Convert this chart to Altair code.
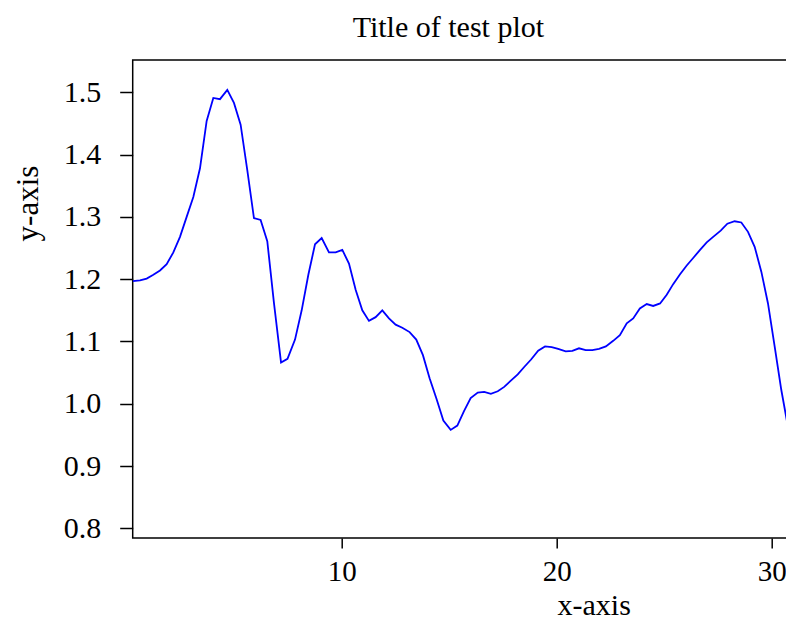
import altair as alt
import pandas as pd

x_vals = [0.28, 0.62, 0.93, 1.24, 1.55, 1.86, 2.17, 2.48, 2.79, 3.10,
          3.41, 3.72, 4.03, 4.34, 4.68, 4.99, 5.30, 5.61, 5.92, 6.23,
          6.54, 6.85, 7.18, 7.48, 7.83, 8.14, 8.45, 8.76, 9.07, 9.41,
          9.72, 10.03, 10.34, 10.65, 10.96, 11.27, 11.58, 11.89, 12.20, 12.51,
          12.82, 13.16, 13.47, 13.78, 14.09, 14.41, 14.73, 15.07, 15.38, 15.69,
          16.00, 16.33, 16.63, 16.94, 17.26, 17.56, 17.87, 18.19, 18.49, 18.81,
          19.14, 19.46, 19.77, 20.07, 20.42, 20.73, 21.04, 21.35, 21.66, 21.97,
          22.29, 22.63, 22.94, 23.26, 23.56, 23.87, 24.19, 24.49, 24.81, 25.12,
          25.42, 25.74, 26.05, 26.35, 26.67, 26.98, 27.28, 27.63, 27.94, 28.28,
          28.59, 28.90, 29.21, 29.52, 29.83, 30.14, 30.45, 30.76, 31.04]

y_vals = [1.197, 1.198, 1.201, 1.207, 1.214, 1.224, 1.243, 1.268, 1.300, 1.332,
          1.378, 1.454, 1.491, 1.489, 1.504, 1.483, 1.448, 1.375, 1.298, 1.295,
          1.261, 1.162, 1.066, 1.072, 1.103, 1.150, 1.207, 1.256, 1.266, 1.243,
          1.243, 1.247, 1.225, 1.183, 1.150, 1.133, 1.139, 1.150, 1.137, 1.127,
          1.122, 1.115, 1.103, 1.078, 1.041, 1.008, 0.973, 0.958, 0.965, 0.988,
          1.009, 1.018, 1.019, 1.016, 1.020, 1.027, 1.037, 1.047, 1.059, 1.071,
          1.085, 1.092, 1.091, 1.088, 1.084, 1.085, 1.089, 1.086, 1.086, 1.088,
          1.092, 1.101, 1.110, 1.129, 1.137, 1.153, 1.160, 1.157, 1.161, 1.175,
          1.192, 1.208, 1.222, 1.234, 1.247, 1.259, 1.268, 1.278, 1.289, 1.293,
          1.291, 1.276, 1.252, 1.212, 1.161, 1.092, 1.022, 0.963, 0.904]

x_ticks = [10, 20, 30]
y_ticks = [0.8, 0.9, 1.0, 1.1, 1.2, 1.3, 1.4, 1.5]

df = pd.DataFrame({"x": x_vals, "y": y_vals})

FONT = "Liberation Serif"
FS = 29

chart = alt.Chart(df).mark_line(color="#0000FF", strokeWidth=1.8, clip=True).encode(
    x=alt.X("x:Q",
            scale=alt.Scale(domain=[0.28, 31.04], nice=False, zero=False),
            axis=alt.Axis(title="x-axis", values=x_ticks, format="d", grid=False,
                          domain=False, tickSize=10, tickWidth=1.5, tickColor="black",
                          labelFont=FONT, labelFontSize=FS, labelColor="black",
                          labelBaseline="alphabetic", labelPadding=32,
                          titleFont=FONT, titleFontSize=FS + 1, titleFontWeight="normal",
                          titleColor="black", titleX=461, titleY=76,
                          titleAlign="center", titleBaseline="alphabetic")),
    y=alt.Y("y:Q",
            scale=alt.Scale(domain=[0.7844, 1.5519], nice=False, zero=False),
            axis=alt.Axis(title="y-axis", values=y_ticks, format=".1f", grid=False,
                          domain=False, tickSize=13, tickWidth=1.5, tickColor="black",
                          labelFont=FONT, labelFontSize=FS + 1, labelColor="black",
                          labelPadding=19, labelBaseline="middle",
                          titleFont=FONT, titleFontSize=FS + 2, titleFontWeight="normal",
                          titleColor="black", titleX=-95, titleY=143, titleAngle=270,
                          titleAlign="center", titleBaseline="alphabetic")),
).properties(
    width=661.3,
    height=478,
    title=alt.TitleParams("Title of test plot", font=FONT, fontSize=FS + 1,
                          fontWeight="normal", color="black", anchor="middle",
                          frame="group", dx=-15, dy=31, baseline="alphabetic", offset=24),
    autosize=alt.AutoSizeParams(type="none"),
    padding={"left": 124.7, "top": 52, "right": -8, "bottom": 80},
).configure_view(stroke="black", strokeWidth=1.5)

chart.save("out.html", embed_options={"renderer": "svg", "actions": False})
